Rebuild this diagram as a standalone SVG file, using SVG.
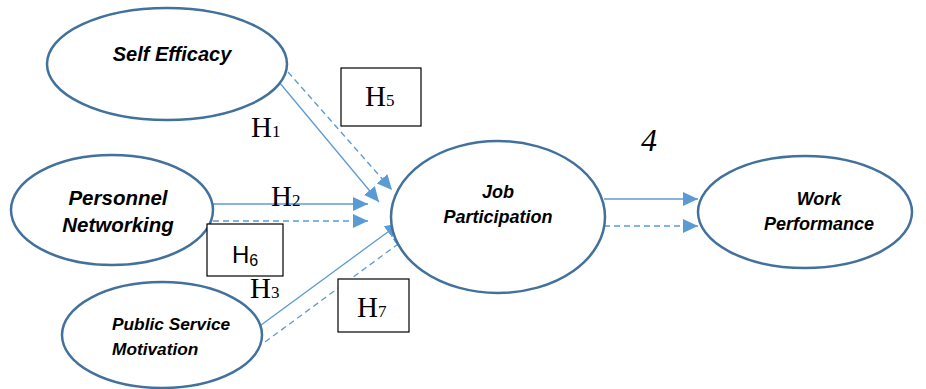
<svg xmlns="http://www.w3.org/2000/svg" width="926" height="389" viewBox="0 0 926 389">
<defs>
<marker id="ah" markerUnits="userSpaceOnUse" markerWidth="16" markerHeight="14" refX="15" refY="7" orient="auto"><path d="M0,0 L15,7 L0,14 z" fill="#5B9BD5"/></marker>
<style>
.node{fill:#fff;stroke:#41719C;stroke-width:2.5}
.lbl{font-family:"Liberation Sans",Arial,sans-serif;font-weight:bold;font-style:italic;fill:#000}
.c{stroke:#5B9BD5;stroke-width:1.3;fill:none;marker-end:url(#ah)}
.d{stroke-dasharray:6,4}
.h{font-family:"Liberation Serif","Times New Roman",serif;font-size:29px;fill:#000}
.hs{font-family:"Liberation Sans",Arial,sans-serif;font-size:24px;fill:#000}
.box{fill:#fff;stroke:#000;stroke-width:1.2}
</style>
</defs>
<rect width="926" height="389" fill="#fff"/>
<g id="connectors">
<line class="c" x1="279" y1="82" x2="379" y2="202"/>
<line class="c d" x1="288" y1="72" x2="392" y2="190"/>
<line class="c" x1="213" y1="204" x2="368" y2="204"/>
<line class="c d" x1="213" y1="221" x2="368" y2="221"/>
<line class="c" x1="257" y1="328" x2="400" y2="223"/>
<line class="c d" x1="265" y1="342" x2="409" y2="236"/>
<line class="c" x1="604" y1="199" x2="698" y2="199"/>
<line class="c d" x1="604" y1="226" x2="698" y2="226"/>
</g>
<g id="self-efficacy">
<ellipse class="node" cx="167" cy="64" rx="120" ry="56"/>
<text class="lbl" x="172" y="61" font-size="20" text-anchor="middle">Self Efficacy</text>
</g>
<g id="personnel-networking">
<ellipse class="node" cx="112" cy="210" rx="101" ry="55"/>
<text class="lbl" x="118" y="205" font-size="20.5" text-anchor="middle">Personnel</text>
<text class="lbl" x="118" y="232" font-size="20.5" text-anchor="middle">Networking</text>
</g>
<g id="public-service-motivation">
<ellipse class="node" cx="162" cy="335" rx="100" ry="53"/>
<text class="lbl" x="112" y="330" font-size="17.3">Public Service</text>
<text class="lbl" x="112" y="355" font-size="17.3">Motivation</text>
</g>
<g id="job-participation">
<ellipse class="node" cx="498" cy="217" rx="107" ry="76"/>
<text class="lbl" x="498" y="198" font-size="18" text-anchor="middle">Job</text>
<text class="lbl" x="498" y="223" font-size="18" text-anchor="middle">Participation</text>
</g>
<g id="work-performance">
<ellipse class="node" cx="805" cy="212" rx="107" ry="56"/>
<text class="lbl" x="819" y="205" font-size="18" text-anchor="middle">Work</text>
<text class="lbl" x="819" y="230" font-size="18" text-anchor="middle">Performance</text>
</g>
<g id="labels">
<text class="h" x="251" y="137">H<tspan font-size="17">1</tspan></text>
<text class="h" x="271" y="206">H<tspan font-size="17">2</tspan></text>
<text class="h" x="250" y="298">H<tspan font-size="17">3</tspan></text>
<text x="641" y="151" font-family="Liberation Serif,serif" font-style="italic" font-size="32" fill="#000">4</text>
</g>
<g id="h5">
<rect class="box" x="341" y="68" width="80" height="58"/>
<text class="h" x="365" y="106">H<tspan font-size="17">5</tspan></text>
</g>
<g id="h6">
<rect class="box" x="207" y="224" width="76" height="52"/>
<text class="hs" x="232" y="263">H<tspan font-size="16" dy="3">6</tspan></text>
</g>
<g id="h7">
<rect class="box" x="338" y="279" width="71" height="53"/>
<text class="h" x="357" y="317">H<tspan font-size="17">7</tspan></text>
</g>
</svg>
